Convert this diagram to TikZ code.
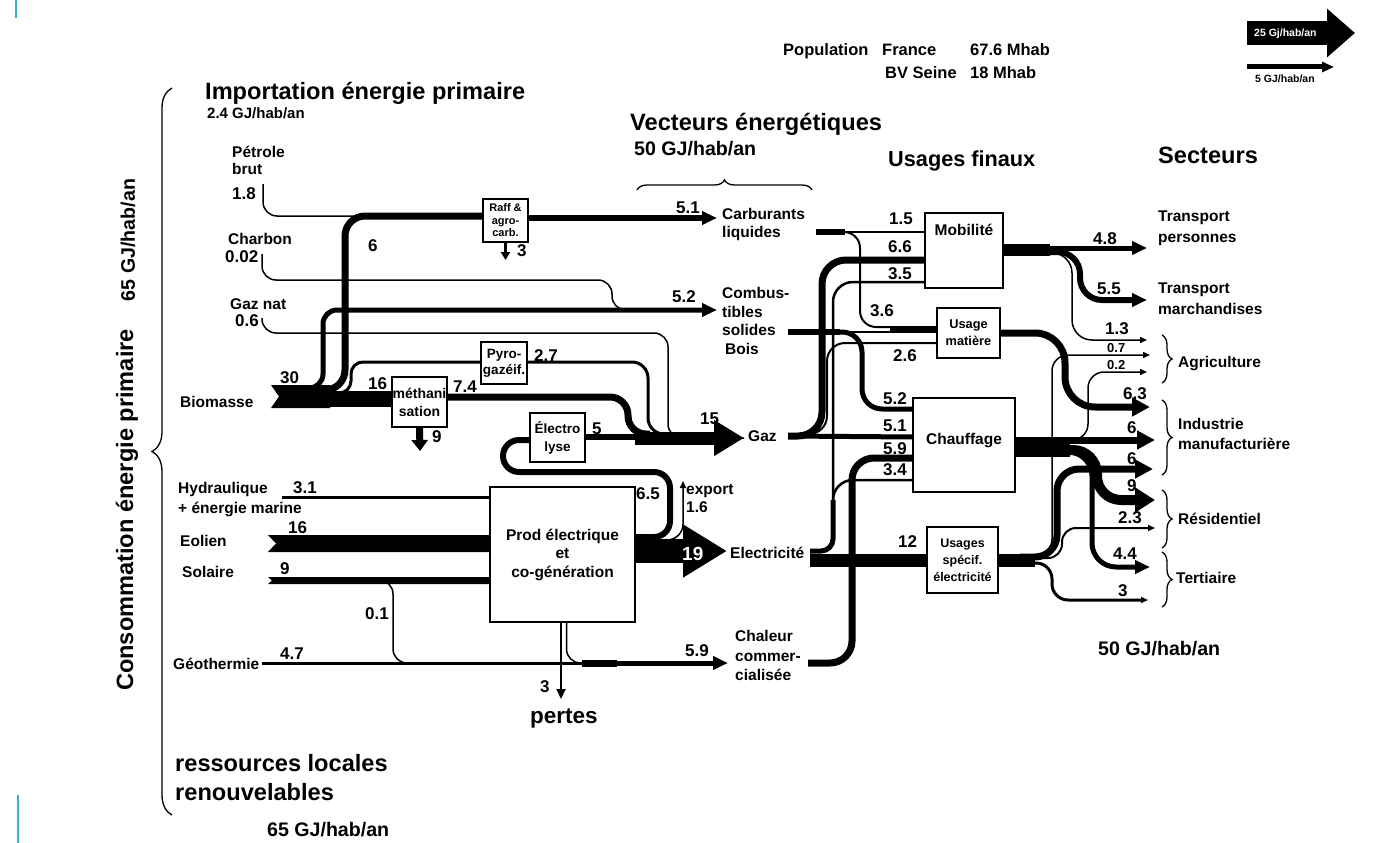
\documentclass[tikz,border=0pt]{standalone}
\usepackage{fontspec}
\setmainfont{Liberation Sans}
\usetikzlibrary{arrows.meta,decorations.pathreplacing}
\definecolor{slide}{HTML}{3BB3C9}

\tikzset{
  lbl/.style={font=\fontsize{15.5}{#1}\selectfont\bfseries, inner sep=0pt, anchor=base west, align=left},
  lbl/.default=16.5,
  num/.style={font=\fontsize{17}{18}\selectfont\bfseries, inner sep=0pt, anchor=base west},
  tinynum/.style={font=\fontsize{13}{14}\selectfont\bfseries, inner sep=0pt, anchor=base west},
  head/.style={font=\fontsize{23.6}{#1}\selectfont\bfseries, inner sep=0pt, anchor=base west, align=left},
  head/.default=29,
  sub/.style={font=\fontsize{19.6}{22}\selectfont\bfseries, inner sep=0pt, anchor=base west},
  proc/.style={draw, line width=1.4pt, fill=white, inner sep=0pt, align=center},
  flow/.style={line width=#1pt},
  bighead/.style={-{Triangle[length=18pt,width=18pt]}},
  midhead/.style={-{Triangle[length=15pt,width=13pt]}},
  thinhead/.style={-{Triangle[length=7pt,width=6pt]}},
  accol/.style={line width=1.3pt, decorate, decoration={brace, amplitude=#1}},
}

\begin{document}
\begin{tikzpicture}[x=1pt, y=-1pt]
\fill[white] (0,0) rectangle (1385,843);
\useasboundingbox (0,0) rectangle (1385,843);
\draw[slide, line width=1.5pt] (16,0) -- (16,18);
\draw[slide, line width=1.5pt] (18,795) -- (18,843);

% boxes
\node[proc, minimum width=45pt, minimum height=43pt, font=\fontsize{11}{12.5}\selectfont\bfseries] (raff) at (505.5,220.5) {Raff \&\\agro-\\carb.};
\node[proc, minimum width=46pt, minimum height=42pt, font=\fontsize{13.5}{16}\selectfont\bfseries] (pyro) at (504,363) {Pyro-\\gazéif.};
\node[proc, minimum width=55pt, minimum height=50pt, font=\fontsize{14}{18}\selectfont\bfseries] (metha) at (419.5,402) {méthani\\sation};
\node[proc, minimum width=55pt, minimum height=49pt, font=\fontsize{13.5}{18}\selectfont\bfseries] (electro) at (557.5,437.5) {Électro\\lyse};
\node[proc, minimum width=145pt, minimum height=135pt, font=\fontsize{15.5}{18.5}\selectfont\bfseries] (prod) at (562.5,554.5) {Prod électrique\\et\\co-génération};
\node[proc, minimum width=78pt, minimum height=75pt] (mob) at (964,250.5) {};
\node[lbl, anchor=base] (mobt) at (964,235) {Mobilité};
\node[proc, minimum width=63pt, minimum height=50pt, font=\fontsize{12.8}{17}\selectfont\bfseries] (matiere) at (968.5,333) {Usage\\matière};
\node[proc, minimum width=102pt, minimum height=94pt] (chauf) at (964,445) {};
\node[lbl, anchor=base] (chauft) at (964,444) {Chauffage};
\node[proc, minimum width=71pt, minimum height=66pt, font=\fontsize{12.5}{17}\selectfont\bfseries] (spec) at (962.5,560) {Usages\\spécif.\\électricité};

% free ends
\coordinate (petro) at (263,184);
\coordinate (charb) at (262,254);
\coordinate (gnat) at (262,318);
\coordinate (bio) at (300,399);
\coordinate (carbin) at (717,218);
\coordinate (combin) at (717,310);
\coordinate (gazin) at (744,438);
\coordinate (elecin) at (727,551);
\coordinate (chalin) at (728,663);
\coordinate (hydro) at (282,497);
\coordinate (geo) at (262,663);
\coordinate (pertesin) at (561,699);
\coordinate (export) at (683,481);
\coordinate (raffout) at (505.5,260);
\coordinate (methaout) at (420,451);
\coordinate (carbout) at (816,232);
\coordinate (combout) at (788,332);
\coordinate (gazout) at (788,436);
\coordinate (elecout) at (810,560);
\coordinate (elecup) at (810,551);
\coordinate (chalout) at (808,663);
\coordinate (tp) at (1147,248);
\coordinate (tm) at (1147,300);
\coordinate (ag1) at (1147,340);
\coordinate (ag2) at (1150,355);
\coordinate (ag3) at (1147,372);
\coordinate (in1) at (1150,407);
\coordinate (in2) at (1155,440);
\coordinate (in3) at (1153,469);
\coordinate (re1) at (1155,500);
\coordinate (re2) at (1155,528);
\coordinate (te1) at (1150,567);
\coordinate (te2) at (1148,600);

% imports and biomass
\fill (271,385) -- (330,385) -- (330,408) -- (271,408) -- (279,396.5) -- cycle;
\draw[flow=1.5, rounded corners=14pt] (petro) |- (raff.west |- 0,216);
\draw[flow=1.5, rounded corners=14pt] (charb) |- (612,280) |- (650,310);
\draw[flow=1.5, rounded corners=14pt] (gnat) |- (668,333) |- (gazin);
\draw[flow=5, midhead, rounded corners=14pt] (290,388) -| (323,310) -- (combin);
\draw[flow=7, rounded corners=20pt] (290,390) -| (345,216) -- (raff.west |- 0,216);
\draw[flow=3, rounded corners=12pt] (290,393) -| (351,362) -- (pyro.west |- 0,362);
\draw[flow=16] (bio) -- (metha.west |- 0,399);
\draw[flow=6, midhead] (raff.east |- 0,218) -- (carbin);
\draw[flow=3, -{Triangle[length=8pt,width=9pt]}] (raff.south) -- (raffout);
\draw[flow=7, -{Triangle[length=11pt,width=16pt]}] (metha.south) -- (methaout);

% gas
\draw[flow=7, rounded corners=18pt] (metha.east |- 0,397) -| (628,434) -- (650,434);
\draw[flow=3, rounded corners=16pt] (pyro.east |- 0,362) -| (648,434) -- (660,434);
\draw[flow=6] (electro.east |- 0,437) -- (650,437);
\draw[flow=13, -{Triangle[length=30pt,width=34pt]}] (635,438) -- (gazin);
\draw[flow=6, rounded corners=16pt] (prod.east |- 0,537) -| (670,472) -| (503,440) -- (electro.west |- 0,440);

% electricity production
\draw[flow=3] (hydro) -- (prod.west |- 0,497);
\fill (268,535) -- (prod.west |- 0,535) -- (prod.west |- 0,552) -- (268,552) -- (276,543.5) -- cycle;
\fill (268,577) -- (prod.west |- 0,577) -- (prod.west |- 0,584) -- (268,584) -- (272,580.5) -- cycle;
\draw[flow=1.5, rounded corners=14pt] (370,580) -| (393,663) -- (420,663);
\draw[flow=3] (geo) -- (600,663);
\draw[flow=7] (582,663) -- (617,663);
\draw[flow=5, midhead] (600,663) -- (chalin);
\draw[flow=1.5, rounded corners=14pt] ([xshift=4pt]prod.south) |- (600,663);
\draw[flow=2, -{Triangle[length=10pt,width=9pt]}] ([xshift=-1.5pt]prod.south) -- (pertesin);
\draw[flow=24, -{Triangle[length=44pt,width=50pt]}] (prod.east |- 0,551) -- (elecin);
\draw[flow=1.5, thinhead, rounded corners=16pt] (655,540) -| (export);

% vectors to uses
\draw[flow=6] (carbout) -- (845,232);
\draw[flow=1.5] (845,232) -- (mob.west |- 0,232);
\draw[flow=2, rounded corners=16pt] (843,232) -| (860,327) -- (matiere.west |- 0,327);
\draw[flow=5] (890,328) -- (matiere.west |- 0,328);
\draw[flow=6] (combout) -- (840,332);
\draw[flow=1.5] (840,332) -- (matiere.west |- 0,332);
\draw[flow=5, rounded corners=20pt] (835,332) -| (862,409) -- (chauf.west |- 0,409);
\draw[flow=7, rounded corners=24pt] (gazout) -| (822,260) -- (mob.west |- 0,260);
\draw[flow=5] (gazout) -- (chauf.west |- 0,437);
\draw[flow=2, rounded corners=18pt] (800,434) -| (827,343) -- (matiere.west |- 0,343);
\draw[flow=13] (elecout) -- (spec.west |- 0,560);
\draw[flow=5, rounded corners=12pt] (elecup) -| (833,500);
\draw[flow=2.5, rounded corners=20pt] (833,505) |- (mob.west |- 0,282);
\draw[flow=2.5, rounded corners=20pt] (833,505) |- (chauf.west |- 0,480);
\draw[flow=7, rounded corners=22pt] (chalout) -| (852,458) -- (chauf.west |- 0,458);

% uses to sectors
\draw[flow=12] (mob.east |- 0,250) -- (1050,250);
\draw[flow=5, midhead] (mob.east |- 0,248) -- (tp);
\draw[flow=6, midhead, rounded corners=22pt] (1040,252) -| (1080,300) -- (tm);
\draw[flow=1.5, thinhead, rounded corners=20pt] (1040,253) -| (1072,340) -- (ag1);
\draw[flow=7, bighead, rounded corners=30pt] (matiere.east |- 0,333) -| (1065,407) -- (in1);
\draw[flow=20] (chauf.east |- 0,447) -- (1070,447);
\draw[flow=7, bighead] (chauf.east |- 0,440) -- (in2);
\draw[flow=10, -{Triangle[length=20pt,width=24pt]}, rounded corners=24pt] (1050,450) -| (1097,500) -- (re1);
\draw[flow=5, midhead, rounded corners=24pt] (1050,452) -| (1092,567) -- (te1);
\draw[flow=1.5, thinhead, rounded corners=16pt] (1060,440) -| (1088,372) -- (ag3);
\draw[flow=13] (spec.east |- 0,560) -- (1035,560);
\draw[flow=7, bighead, rounded corners=22pt] (1020,557) -| (1057,469) -- (in3);
\draw[flow=1.5, thinhead, rounded corners=16pt] (1020,555) -| (1052,355) -- (ag2);
\draw[flow=2, thinhead, rounded corners=14pt] (1030,558) -| (1062,528) -- (re2);
\draw[flow=3, thinhead, rounded corners=16pt] (1030,563) -| (1052,600) -- (te2);

% braces
\draw[accol=20pt] (172,815) -- (172,88);
\draw[accol=10pt] (637,190) -- (812,190);
\draw[accol=10pt] (1162,335) -- (1162,383);
\draw[accol=10pt] (1162,400) -- (1162,475);
\draw[accol=10pt] (1162,490) -- (1162,548);
\draw[accol=10pt] (1162,552) -- (1162,607);

% scale
\draw[flow=24, -{Triangle[length=28pt,width=47pt]}] (1247,33) coordinate (ech1) -- (1355,33) coordinate (ech1b);
\node[font=\fontsize{10.5}{11}\selectfont\bfseries, text=white, inner sep=0pt, anchor=base west] (ech1t) at (1254,37) {25 Gj/hab/an};
\draw[flow=5, -{Triangle[length=12pt,width=10pt]}] (1247,67) coordinate (ech2) -- (1334,67) coordinate (ech2b);
\node[font=\fontsize{10.5}{11}\selectfont\bfseries, inner sep=0pt, anchor=base west] (ech2t) at (1255,83) {5 GJ/hab/an};

% headings
\node[head] (import) at (205,99.5) {Importation énergie primaire};
\node[font=\fontsize{15}{16}\selectfont\bfseries, inner sep=0pt, anchor=base west] (import2) at (207,118.5) {2.4 GJ/hab/an};
\node[head] (vect) at (630,130.5) {Vecteurs énergétiques};
\node[sub] (vect2) at (634,155) {50 GJ/hab/an};
\node[font=\fontsize{21.7}{24}\selectfont\bfseries, inner sep=0pt, anchor=base west] (usages) at (888,166) {Usages finaux};
\node[head] (sect) at (1158,163.5) {Secteurs};
\node[sub] (sect2) at (1098,655) {50 GJ/hab/an};
\node[head] (ress) at (175,800.5) {ressources locales\\renouvelables};
\node[sub] (ress2) at (267,836) {65 GJ/hab/an};
\node[head, anchor=center, rotate=90] (conso) at (127,510) {Consommation énergie primaire};
\node[sub, anchor=center, rotate=90] (conso2) at (128,240) {65 GJ/hab/an};
\node[font=\fontsize{16.5}{17}\selectfont\bfseries, inner sep=0pt, anchor=base west] (pop) at (783,56) {Population};
\node[font=\fontsize{16.5}{17}\selectfont\bfseries, inner sep=0pt, anchor=base west] (popfr) at (882,56) {France};
\node[font=\fontsize{16.5}{17}\selectfont\bfseries, inner sep=0pt, anchor=base west] (popfrn) at (970,56) {67.6 Mhab};
\node[font=\fontsize{16.5}{17}\selectfont\bfseries, inner sep=0pt, anchor=base west] (popbv) at (885,78) {BV Seine};
\node[font=\fontsize{16.5}{17}\selectfont\bfseries, inner sep=0pt, anchor=base west] (popbvn) at (970,78) {18 Mhab};

% sources
\node[lbl] (petrole) at (232,174) {Pétrole\\brut};
\node[num] (n18) at (232,199) {1.8};
\node[lbl] (charbon) at (228,244) {Charbon};
\node[num] (n002) at (225,262) {0.02};
\node[lbl] (gaznat) at (230,309) {Gaz nat};
\node[num] (n06) at (235,326) {0.6};
\node[lbl] (biomasse) at (180,407) {Biomasse};
\node[num] (n30) at (280,383) {30};
\node[num] (n16a) at (368,389) {16};
\node[num] (n6a) at (368,251) {6};
\node[lbl=20] (hydrau) at (178,513.5) {Hydraulique\\+ énergie marine};
\node[num] (n31) at (293,493) {3.1};
\node[num] (n16b) at (288,533) {16};
\node[lbl] (eolien) at (180,546) {Eolien};
\node[lbl] (solaire) at (182,577) {Solaire};
\node[num] (n9a) at (280,574) {9};
\node[num] (n01) at (365,619) {0.1};
\node[lbl] (geoth) at (173,669) {Géothermie};
\node[num] (n47) at (280,659) {4.7};
\node[num] (n3p) at (540,692) {3};
\node[font=\fontsize{22.5}{24}\selectfont\bfseries, inner sep=0pt, anchor=base west] (pertes) at (530,723) {pertes};

% middle labels
\node[num] (n51a) at (676,213) {5.1};
\node[num] (n3r) at (517,256) {3};
\node[num] (n52a) at (672,302) {5.2};
\node[num] (n27) at (534,361) {2.7};
\node[num] (n74) at (453,392) {7.4};
\node[num] (n9m) at (432,442) {9};
\node[num] (n15) at (700,424) {15};
\node[num] (n5e) at (592,434) {5};
\node[num] (n65) at (636,499) {6.5};
\node[lbl=18] (exp) at (686,512.5) {export\\1.6};
\node[font=\fontsize{19}{20}\selectfont\bfseries, text=white, inner sep=0pt, anchor=base west] (n19) at (682,560.5) {19};
\node[num] (n59a) at (685,656) {5.9};
\node[lbl=18] (carbu) at (722,237.5) {Carburants\\liquides};
\node[lbl=18.5] (combu) at (722,335.5) {Combus-\\tibles\\solides};
\node[lbl] (bois) at (725,354.5) {Bois};
\node[lbl] (gaz) at (748,441) {Gaz};
\node[lbl] (elec) at (730,558) {Electricité};
\node[lbl=19.5] (chaleur) at (735,680.5) {Chaleur\\commer-\\cialisée};

% use labels
\node[num] (n15m) at (889,224) {1.5};
\node[num] (n66) at (888,252) {6.6};
\node[num] (n35) at (888,279) {3.5};
\node[num] (n36) at (870,316) {3.6};
\node[num] (n26) at (893,361) {2.6};
\node[num] (n52b) at (883,404) {5.2};
\node[num] (n51b) at (883,431) {5.1};
\node[num] (n59b) at (883,454) {5.9};
\node[num] (n34) at (883,475) {3.4};
\node[num] (n12) at (898,547) {12};

% sector labels
\node[num] (n48) at (1093,244) {4.8};
\node[num] (n55) at (1097,294) {5.5};
\node[num] (n13) at (1105,334) {1.3};
\node[tinynum] (n07) at (1107,352) {0.7};
\node[tinynum] (n02) at (1107,369) {0.2};
\node[num] (n63) at (1123,399) {6.3};
\node[num] (n6b) at (1127,433) {6};
\node[num] (n6c) at (1127,464) {6};
\node[num] (n9r) at (1127,491) {9};
\node[num] (n23) at (1118,523) {2.3};
\node[num] (n44) at (1113,559) {4.4};
\node[num] (n3t) at (1118,596) {3};
\node[lbl=21] (tpers) at (1158,242.5) {Transport\\personnes};
\node[lbl=21] (tmarch) at (1158,314.5) {Transport\\marchandises};
\node[lbl] (agri) at (1178,367) {Agriculture};
\node[lbl=20] (indus) at (1178,449.5) {Industrie\\manufacturière};
\node[lbl] (resid) at (1178,524) {Résidentiel};
\node[lbl] (terti) at (1176,583) {Tertiaire};
\end{tikzpicture}
\end{document}
